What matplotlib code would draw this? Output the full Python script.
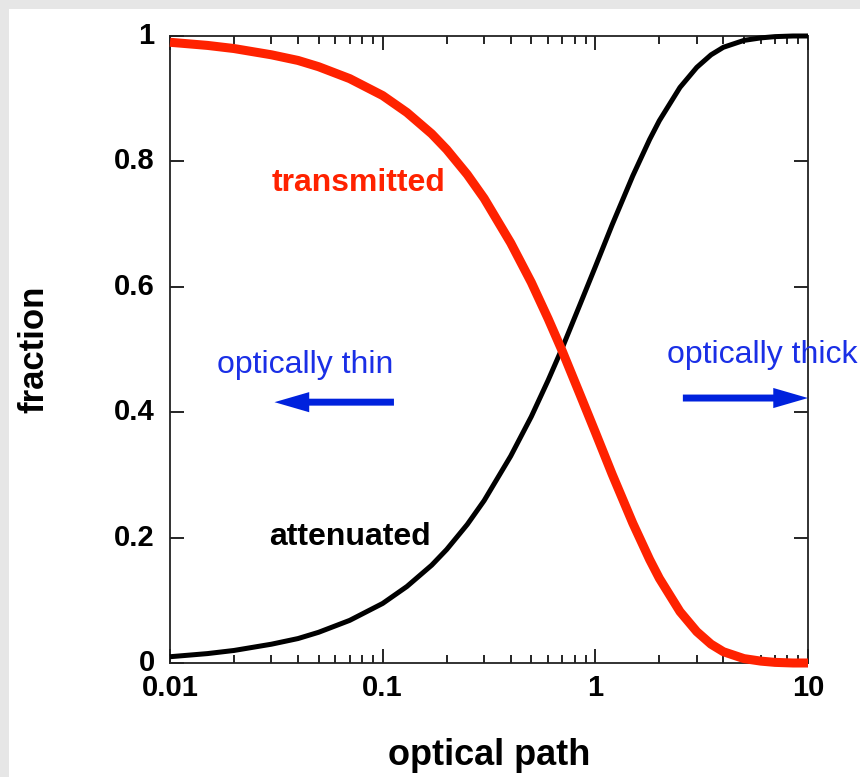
import matplotlib
matplotlib.use('Agg')
import matplotlib.pyplot as plt
from matplotlib.patches import Rectangle
from matplotlib.ticker import FixedLocator, LogLocator, NullFormatter
from matplotlib.transforms import ScaledTranslation

plt.rcParams['font.family'] = ['Liberation Sans', 'DejaVu Sans']

# optical depth samples and the two fractions
optical_path = [0.01, 0.015, 0.02, 0.03, 0.04, 0.05, 0.07, 0.1, 0.13, 0.17,
                0.2, 0.25, 0.3, 0.4, 0.5, 0.6, 0.7, 0.85, 1.0, 1.2,
                1.5, 1.8, 2.0, 2.5, 3.0, 3.5, 4.0, 5.0, 6.0, 7.0, 8.5, 10.0]
transmitted = [0.990, 0.985, 0.980, 0.970, 0.961, 0.951, 0.932, 0.905, 0.878, 0.844,
               0.819, 0.779, 0.741, 0.670, 0.607, 0.549, 0.497, 0.427, 0.368, 0.301,
               0.223, 0.165, 0.135, 0.082, 0.050, 0.030, 0.018, 0.007, 0.003, 0.001, 0.0, 0.0]
attenuated = [0.010, 0.015, 0.020, 0.030, 0.039, 0.049, 0.068, 0.095, 0.122, 0.156,
              0.181, 0.221, 0.259, 0.330, 0.393, 0.451, 0.503, 0.573, 0.632, 0.699,
              0.777, 0.835, 0.865, 0.918, 0.950, 0.970, 0.982, 0.993, 0.997, 0.999, 1.0, 1.0]

y_ticks = [0, 0.2, 0.4, 0.6, 0.8, 1]
y_tick_labels = ['0', '0.2', '0.4', '0.6', '0.8', '1']
x_ticks = [0.01, 0.1, 1, 10]
x_tick_labels = ['0.01', '0.1', '1', '10']

red = '#ff2200'
blue = '#1a2fe6'
arrow_blue = '#0022dd'

fig = plt.figure(figsize=(8.6, 7.77), dpi=100, facecolor='#e6e6e6')
# white sheet, leaving a thin grey band on top and left
sheet = Rectangle((9 / 860, 0), 1, 1 - 9 / 777, transform=fig.transFigure,
                  facecolor='white', edgecolor='none', zorder=-10)
fig.add_artist(sheet)

ax = fig.add_axes([170 / 860, 1 - 663 / 777, 638 / 860, 627 / 777])
ax.set_facecolor('white')
ax.set_xscale('log')
ax.set_xlim(0.01, 10)
ax.set_ylim(0, 1)

ax.plot(optical_path, attenuated, color='black', lw=3.6, clip_on=False, zorder=3,
        solid_capstyle='butt')
ax.plot(optical_path, transmitted, color=red, lw=6.5, clip_on=False, zorder=4,
        solid_capstyle='butt')

for s in ax.spines.values():
    s.set_linewidth(1.3)
    s.set_color('#222222')

ax.yaxis.set_major_locator(FixedLocator(y_ticks))
ax.set_yticklabels(y_tick_labels)
ax.xaxis.set_major_locator(FixedLocator(x_ticks))
ax.set_xticklabels(x_tick_labels)
ax.xaxis.set_minor_locator(LogLocator(base=10, subs=range(2, 10)))
ax.xaxis.set_minor_formatter(NullFormatter())
ax.tick_params(which='both', direction='in', top=True, right=True, width=1.2,
               colors='black', labelsize=21)
ax.tick_params(which='major', length=10)
ax.tick_params(which='minor', length=6)
ax.tick_params(axis='x', pad=8)
ax.tick_params(axis='y', pad=11)
for lab in ax.get_xticklabels() + ax.get_yticklabels():
    lab.set_fontweight('bold')
# y labels sit a touch above their ticks
lift = ScaledTranslation(0, 3 / 100, fig.dpi_scale_trans)
for lab in ax.get_yticklabels():
    lab.set_transform(lab.get_transform() + lift)

ax.set_xlabel('optical path', fontsize=26, fontweight='bold', labelpad=26)
ax.set_ylabel('fraction', fontsize=25, fontweight='bold', labelpad=46)

ax.text(0.0766, 0.766, 'transmitted', color=red, fontsize=23, fontweight='bold',
        ha='center', va='center')
ax.text(0.070, 0.201, 'attenuated', color='black', fontsize=23, fontweight='bold',
        ha='center', va='center')
ax.text(0.0431, 0.475, 'optically thin', color=blue, fontsize=23,
        ha='center', va='center')
ax.text(6.1, 0.491, 'optically thick', color=blue, fontsize=23,
        ha='center', va='center', clip_on=False)

arrow_style = 'simple,head_length=2.5,head_width=1.45,tail_width=0.5'
ax.annotate('', xy=(0.031, 0.416), xytext=(0.113, 0.416),
            arrowprops=dict(arrowstyle=arrow_style, fc=arrow_blue, ec='none',
                            lw=0, shrinkA=0, shrinkB=0, mutation_scale=10))
ax.annotate('', xy=(10.0, 0.4226), xytext=(2.58, 0.4226),
            arrowprops=dict(arrowstyle=arrow_style, fc=arrow_blue, ec='none',
                            lw=0, shrinkA=0, shrinkB=0, mutation_scale=10),
            annotation_clip=False)

fig.savefig('out.png', dpi=100, facecolor=fig.get_facecolor())
